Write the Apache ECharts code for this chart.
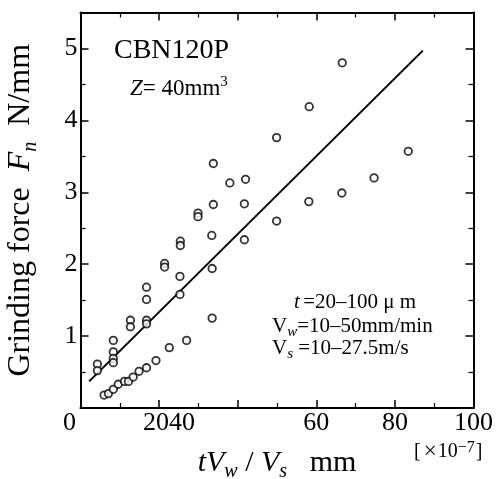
<!DOCTYPE html>
<html>
<head>
<meta charset="utf-8">
<script src="https://cdn.jsdelivr.net/npm/echarts@6/dist/echarts.min.js"></script>
<style>
  html, body { margin: 0; padding: 0; background: #fff; }
  #chart { width: 496px; height: 479px; }
</style>
</head>
<body>
<div id="chart"></div>
<script>
// 测定点 (x: tVw/Vs ×10^-7 mm, y: Fn N/mm)
var pointX = [4.3, 4.3, 8.35, 8.35, 8.35, 8.35, 12.7, 12.7, 16.8, 16.8, 16.8, 16.8,
    21.4, 21.4, 25.3, 25.3, 25.4, 25.4, 29.9, 29.9, 33.5, 33.5, 33.4, 33.8, 33.8,
    38.0, 42.0, 41.7, 41.7, 49.9, 58.2, 66.6,
    6.0, 7.1, 8.35, 9.6, 11.2, 12.2, 13.4, 14.9, 16.8, 19.2, 22.6, 27.0,
    49.9, 58.1, 66.5, 74.7, 83.4];
var pointY = [0.61, 0.52, 0.94, 0.78, 0.69, 0.63, 1.22, 1.13, 1.68, 1.51, 1.22, 1.17,
    2.01, 1.96, 1.83, 1.58, 2.32, 2.26, 2.71, 2.66, 1.94, 1.25, 2.40, 2.83, 3.40,
    3.13, 3.18, 2.84, 2.34, 3.76, 4.19, 4.80,
    0.18, 0.20, 0.26, 0.33, 0.37, 0.37, 0.43, 0.51, 0.56, 0.66, 0.84, 0.94,
    2.60, 2.87, 2.99, 3.20, 3.57];
// 回归直线
var lineX = [2.2, 87.1];
var lineY = [0.37, 4.97];
// 坐标刻度
var xTickLabels = {0: '0', 20: '2040', 40: '', 60: '60', 80: '80', 100: '100'};
var yTickLabels = {0: '', 1: '1', 2: '2', 3: '3', 4: '4', 5: '5'};

var serif = '"Liberation Serif", "DejaVu Serif", serif';

var scatterData = [];
for (var i = 0; i < pointX.length; i++) {
    scatterData.push([pointX[i], pointY[i]]);
}
var lineData = [];
for (var j = 0; j < lineX.length; j++) {
    lineData.push([lineX[j], lineY[j]]);
}

function axisStyle() {
    return {
        axisLine: {show: true, onZero: false, lineStyle: {color: '#000', width: 2}},
        axisTick: {show: true, inside: true, length: 8, lineStyle: {color: '#000', width: 1.5}},
        minorTick: {show: true, splitNumber: 2, length: 5, lineStyle: {color: '#000', width: 1.2}},
        splitLine: {show: false}
    };
}

var chart = echarts.init(document.getElementById('chart'));
var option = {
    animation: false,
    backgroundColor: '#fff',
    grid: {left: 80.5, right: 22.5, top: 12.5, bottom: 71, outerBoundsMode: 'none', containLabel: false},
    xAxis: [
        Object.assign({
            type: 'value', position: 'bottom', min: 0, max: 100, interval: 20,
            axisLabel: {
                show: true, margin: 2, color: '#000', fontFamily: serif, fontSize: 26,
                formatter: function (v) {
                    if (v === 0) return '{o|0}';
                    if (v === 20) return '{s|' + xTickLabels[20] + '}';
                    return xTickLabels[v] !== undefined ? xTickLabels[v] : '';
                },
                rich: {
                    o: {fontFamily: serif, fontSize: 26, color: '#000', padding: [0, 22, 0, 0]},
                    s: {fontFamily: serif, fontSize: 26, color: '#000', padding: [0, 0, 0, 20]}
                }
            },
            name: '{i|tV}{sub|w}{r| / }{i|V}{sub|s}{r|   mm}',
            nameLocation: 'middle',
            nameGap: 36,
            nameTextStyle: {
                rich: {
                    i: {fontFamily: serif, fontStyle: 'italic', fontSize: 30, color: '#000', lineHeight: 38},
                    r: {fontFamily: serif, fontSize: 30, color: '#000', lineHeight: 38},
                    sub: {fontFamily: serif, fontStyle: 'italic', fontSize: 20, color: '#000', lineHeight: 20, verticalAlign: 'bottom'}
                }
            }
        }, axisStyle()),
        Object.assign({
            type: 'value', position: 'top', min: 0, max: 100, interval: 20,
            axisLabel: {show: false}
        }, axisStyle())
    ],
    yAxis: [
        Object.assign({
            type: 'value', position: 'left', min: 0, max: 5.5, interval: 1,
            axisLabel: {
                show: true, margin: 3, color: '#000', fontFamily: serif, fontSize: 26,
                formatter: function (v) {
                    return yTickLabels[v] !== undefined ? yTickLabels[v] : '';
                }
            },
            name: '{r|Grinding force  }{i|F}{sub|n}{r|  N/mm}',
            nameLocation: 'middle',
            nameRotate: 90,
            nameGap: 40,
            nameTextStyle: {
                rich: {
                    i: {fontFamily: serif, fontStyle: 'italic', fontSize: 32, color: '#000', lineHeight: 40},
                    r: {fontFamily: serif, fontSize: 32, color: '#000', lineHeight: 40},
                    sub: {fontFamily: serif, fontStyle: 'italic', fontSize: 20, color: '#000', lineHeight: 20, verticalAlign: 'bottom'}
                }
            }
        }, axisStyle()),
        Object.assign({
            type: 'value', position: 'right', min: 0, max: 5.5, interval: 1,
            axisLabel: {show: false}
        }, axisStyle())
    ],
    graphic: [
        {
            type: 'text', left: 114, top: 37,
            style: {text: 'CBN120P', font: '28px ' + serif, fill: '#000'}
        },
        {
            type: 'text', left: 130, top: 75,
            style: {
                text: '{i|Z}{r|= 40mm}{sup|3}',
                fill: '#000',
                rich: {
                    i: {fontFamily: serif, fontStyle: 'italic', fontSize: 23, lineHeight: 28},
                    r: {fontFamily: serif, fontSize: 23, lineHeight: 28},
                    sup: {fontFamily: serif, fontSize: 15, lineHeight: 15, verticalAlign: 'top'}
                }
            }
        },
        {
            type: 'text', left: 294, top: 292,
            style: {
                text: '{i|t} {r|=20\u2013100 \u03bc m}',
                fill: '#000',
                rich: {
                    i: {fontFamily: serif, fontStyle: 'italic', fontSize: 21, lineHeight: 24},
                    r: {fontFamily: serif, fontSize: 21, lineHeight: 24}
                }
            }
        },
        {
            type: 'text', left: 272, top: 316,
            style: {
                text: '{r|V}{sub|w}{r|=10\u201350mm/min}',
                fill: '#000',
                rich: {
                    r: {fontFamily: serif, fontSize: 21, lineHeight: 26},
                    sub: {fontFamily: serif, fontStyle: 'italic', fontSize: 15, lineHeight: 15, verticalAlign: 'bottom'}
                }
            }
        },
        {
            type: 'text', left: 272, top: 338,
            style: {
                text: '{r|V}{sub|s}{r| =10\u201327.5m/s}',
                fill: '#000',
                rich: {
                    r: {fontFamily: serif, fontSize: 21, lineHeight: 26},
                    sub: {fontFamily: serif, fontStyle: 'italic', fontSize: 15, lineHeight: 15, verticalAlign: 'bottom'}
                }
            }
        },
        {
            type: 'text', left: 414, top: 440,
            style: {
                text: '{r|[}{x|\u00d7}{r|10}{sup|\u22127}{r|]}',
                fill: '#000',
                rich: {
                    r: {fontFamily: serif, fontSize: 20, lineHeight: 24},
                    x: {fontFamily: serif, fontSize: 23, lineHeight: 24, padding: [0, 1, 0, 3]},
                    sup: {fontFamily: serif, fontSize: 16, lineHeight: 16, verticalAlign: 'top', padding: [0, 1, 0, 0]}
                }
            }
        }
    ],
    series: [
        {
            type: 'line',
            xAxisIndex: 0, yAxisIndex: 0,
            data: lineData,
            showSymbol: false,
            lineStyle: {color: '#000', width: 2},
            z: 2
        },
        {
            type: 'scatter',
            xAxisIndex: 0, yAxisIndex: 0,
            data: scatterData,
            symbol: 'circle',
            symbolSize: 7.5,
            itemStyle: {color: '#fff', borderColor: '#000', borderWidth: 1.8},
            z: 3
        }
    ]
};
chart.setOption(option);
</script>
</body>
</html>
